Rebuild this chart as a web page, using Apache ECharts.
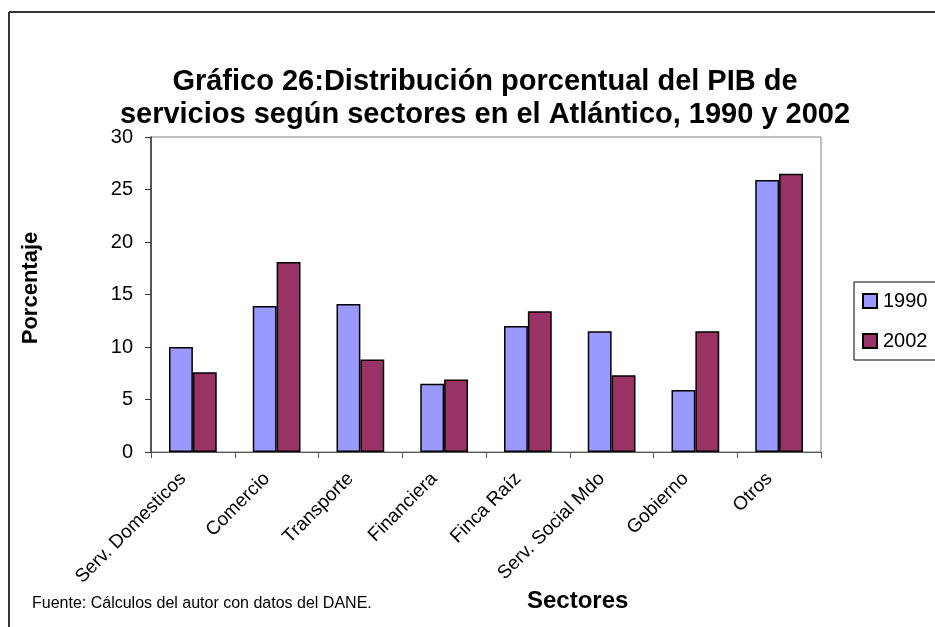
<!DOCTYPE html>
<html>
<head>
<meta charset="utf-8">
<script src="https://cdn.jsdelivr.net/npm/echarts@6/dist/echarts.min.js"></script>
<style>
    html, body { margin: 0; padding: 0; background: #fff; }
    #chart { width: 935px; height: 627px; }
</style>
</head>
<body>
<div id="chart"></div>
<script>
// sectores y valores (%)
var sectores = ['Serv. Domesticos', 'Comercio', 'Transporte', 'Financiera', 'Finca Raíz', 'Serv. Social Mdo', 'Gobierno', 'Otros'];
var valores1990 = [10.0, 13.9, 14.1, 6.5, 12.0, 11.5, 5.9, 25.9];
var valores2002 = [7.6, 18.1, 8.8, 6.9, 13.4, 7.3, 11.5, 26.5];
var yTicks = [0, 5, 10, 15, 20, 25, 30];

var font = 'Liberation Sans, Arial, sans-serif';
var chart = echarts.init(document.getElementById('chart'));

var option = {
    backgroundColor: '#fff',
    animation: false,
    textStyle: { fontFamily: font },
    title: {
        text: 'Gráfico 26:Distribución porcentual del PIB de\nservicios según sectores en el Atlántico, 1990 y 2002',
        left: 480,
        top: 60,
        textAlign: 'center',
        textStyle: { fontSize: 29, fontWeight: 'bold', color: '#000', lineHeight: 33, fontFamily: font }
    },
    legend: {
        orient: 'vertical',
        left: 854,
        top: 282,
        padding: [9, 20, 9, 8],
        itemWidth: 14,
        itemHeight: 14,
        itemGap: 20,
        borderColor: '#000',
        borderWidth: 1,
        icon: 'rect',
        textStyle: { fontSize: 20, color: '#000', fontFamily: font, padding: [0, 0, 0, 1] },
        data: ['1990', '2002']
    },
    grid: {
        left: 151,
        right: 114,
        top: 137,
        bottom: 175,
        show: true,
        borderColor: '#808080',
        borderWidth: 1
    },
    xAxis: {
        type: 'category',
        data: sectores,
        axisLine: { lineStyle: { color: '#555', width: 1 } },
        axisTick: { show: true, length: 6, lineStyle: { color: '#555' } },
        axisLabel: {
            interval: 0,
            rotate: 45,
            fontSize: 19,
            color: '#000',
            margin: 14,
            padding: [0, 14, 0, 0],
            fontFamily: font
        }
    },
    yAxis: {
        type: 'value',
        min: yTicks[0],
        max: yTicks[yTicks.length - 1],
        interval: 5,
        axisLine: { show: true, lineStyle: { color: '#333', width: 1.5 } },
        axisTick: { show: true, length: 6, lineStyle: { color: '#333' } },
        splitLine: { show: false },
        axisLabel: { fontSize: 20, color: '#000', margin: 18, fontFamily: font }
    },
    series: [
        {
            name: '1990',
            type: 'bar',
            data: valores1990,
            barGap: '0%',
            barCategoryGap: '43%',
            itemStyle: { color: '#9999FF', borderColor: '#000', borderWidth: 1.5 }
        },
        {
            name: '2002',
            type: 'bar',
            data: valores2002,
            itemStyle: { color: '#993366', borderColor: '#000', borderWidth: 1.5 }
        }
    ],
    graphic: [
        {
            type: 'line',
            shape: { x1: 9, y1: 12, x2: 935, y2: 12 },
            style: { stroke: '#333', lineWidth: 2 }
        },
        {
            type: 'line',
            shape: { x1: 9, y1: 12, x2: 9, y2: 627 },
            style: { stroke: '#333', lineWidth: 2 }
        },
        {
            type: 'text',
            x: 31,
            y: 288,
            rotation: Math.PI / 2,
            style: {
                text: 'Porcentaje', fontSize: 22, fontWeight: 'bold', fill: '#000', fontFamily: font,
                align: 'center', verticalAlign: 'middle'
            }
        },
        {
            type: 'text',
            left: 527,
            top: 589,
            style: { text: 'Sectores', fontSize: 24, fontWeight: 'bold', fill: '#000', fontFamily: font }
        },
        {
            type: 'text',
            left: 32,
            top: 596,
            style: { text: 'Fuente: Cálculos del autor con datos del DANE.', fontSize: 16, fill: '#000', fontFamily: font }
        }
    ]
};

chart.setOption(option);
</script>
</body>
</html>
